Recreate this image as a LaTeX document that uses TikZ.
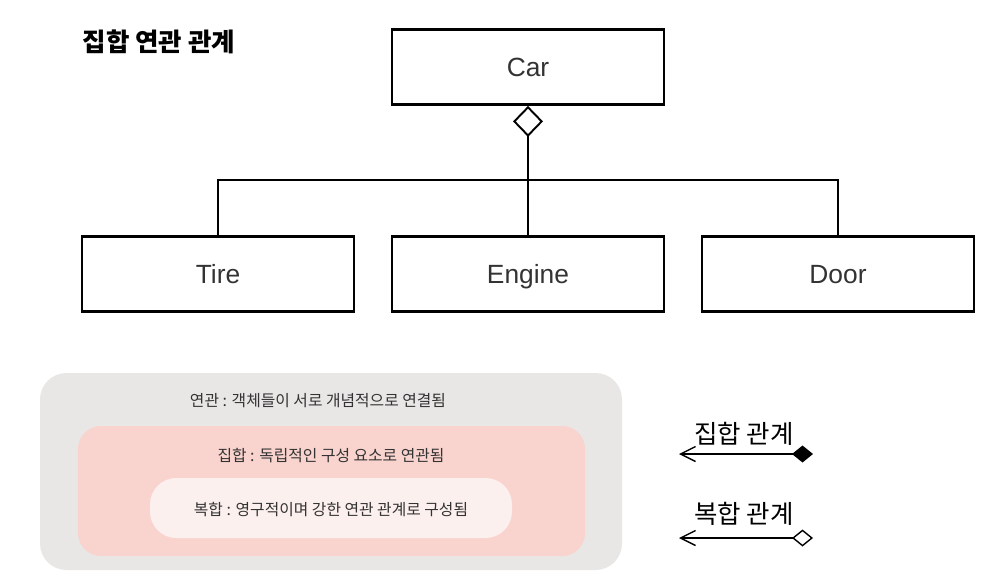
\documentclass[tikz,border=0pt]{standalone}
\usepackage{fontspec}
\setmainfont{Liberation Sans}
\newfontfamily\kr{Noto Sans CJK KR}
\usetikzlibrary{arrows.meta,positioning}
\tikzset{
every picture/.style={
line width=1pt
}}
\definecolor{boxgray}{HTML}{E9E7E6}
\definecolor{boxpink}{HTML}{F9D3CE}
\definecolor{boxwhite}{HTML}{FCF0EE}

\begin{document}
\begin{tikzpicture}[x=0.02cm, y=-0.02cm,
cls/.style = {rectangle, draw=black, line width=1.6pt, minimum width=5.44cm, minimum height=1.5cm, text height=2ex, text depth=0ex, text=black!80, font=\fontsize{15}{18}\selectfont},
note/.style = {text=black!80, font=\kr\fontsize{9}{11}\selectfont},
legend/.style = {font=\kr\fontsize{14.5}{17}\selectfont},
part/.style = {line width=1.1pt, {Diamond[open, length=0.62cm, width=0.6cm]}-},
link/.style = {line width=1.1pt},
aggline/.style = {line width=0.8pt, {Diamond[length=0.42cm, width=0.34cm]}-{Straight Barb[length=0.3cm, width=0.3cm]}},
compline/.style = {line width=0.8pt, {Diamond[open, length=0.42cm, width=0.34cm]}-{Straight Barb[length=0.3cm, width=0.3cm]}}]
\useasboundingbox (0,0) rectangle (986,585);

\node [anchor=west, font=\kr\bfseries\fontsize{14.5}{17}\selectfont] at (76,42) (title) {집합 연관 관계};

\node [cls] at (528,67) (car) {Car};
\node [cls] at (218,274) (tire) {Tire};
\node [cls] at (528,274) (engine) {Engine};
\node [cls] at (838,274) (door) {Door};

\coordinate (bus) at (528,180);
\draw[part] (car.south) -- (bus) -- (engine.north);
\draw[link] (bus) -| (tire.north);
\draw[link] (bus) -| (door.north);

% nested sets
\fill[boxgray, rounded corners=15] (40,373) rectangle (622,570);
\fill[boxpink, rounded corners=13] (78,426) rectangle (585,556);
\fill[boxwhite, rounded corners=15] (150,478) rectangle (512,538);
\node [note] at (318,401) (assoc) {연관 : 객체들이 서로 개념적으로 연결됨};
\node [note] at (331,456) (aggr) {집합 : 독립적인 구성 요소로 연관됨};
\node [note] at (331,510) (comp) {복합 : 영구적이며 강한 연관 관계로 구성됨};

% legend
\node [legend] at (744,434) (agglabel) {집합 관계};
\coordinate (aggR) at (813,454);
\coordinate (aggL) at (679,454);
\draw[aggline] (aggR) -- (aggL);

\node [legend] at (744,514) (complabel) {복합 관계};
\coordinate (compR) at (813,538);
\coordinate (compL) at (679,538);
\draw[compline] (compR) -- (compL);

\end{tikzpicture}
\end{document}
